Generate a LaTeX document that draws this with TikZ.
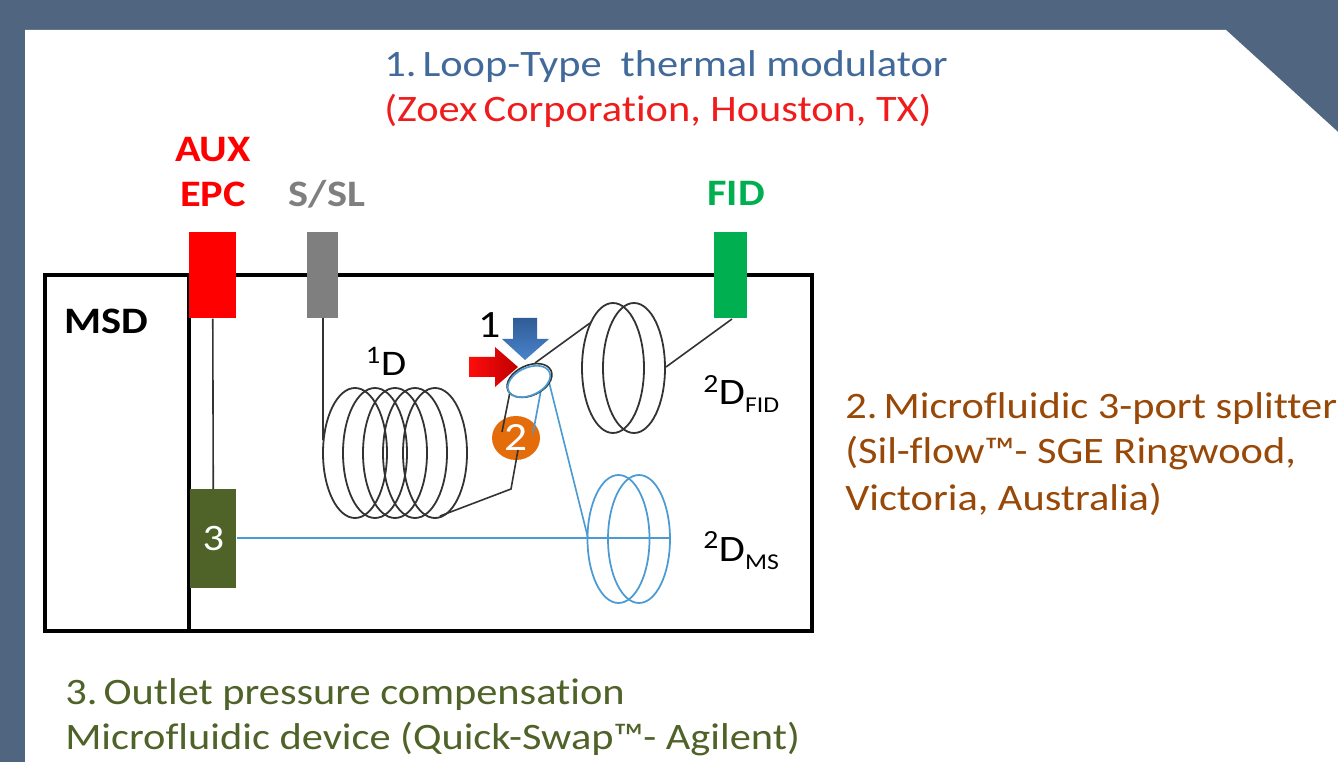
\documentclass[tikz,border=0pt]{standalone}
\usepackage{fontspec}
\setmainfont[FakeStretch=1.135,Ligatures=NoCommon]{Carlito}
\usetikzlibrary{shapes.geometric}
\definecolor{slate}{HTML}{506680}
\definecolor{titleblue}{HTML}{416A9B}
\definecolor{titlered}{HTML}{F01C1C}
\definecolor{brownt}{HTML}{984807}
\definecolor{olivet}{HTML}{4F6228}
\definecolor{olivebox}{HTML}{4F6228}
\definecolor{fidgreen}{HTML}{00B050}
\definecolor{grayb}{HTML}{7F7F7F}
\definecolor{coilblue}{HTML}{4A9AD4}
\definecolor{orangec}{HTML}{E46C0A}
\definecolor{arrowdark}{HTML}{2F5C96}
\definecolor{arrowlight}{HTML}{4A84CC}
\tikzset{
 x=0.75pt,y=-0.75pt,
 label26/.style={anchor=base west,inner sep=0pt,font=\fontsize{28}{30}\selectfont},
 labelb/.style={anchor=base,inner sep=0pt,font=\fontsize{28}{30}\selectfont\bfseries},
 coil/.style={draw=black!80,line width=1.35pt},
 bluecoil/.style={draw=coilblue,line width=1.3pt},
 wire/.style={draw=black!80,line width=1.2pt},
 bluewire/.style={draw=coilblue,line width=1.25pt},
 block/.style={inner sep=0pt,draw=none},
}
\begin{document}
\begin{tikzpicture}
\useasboundingbox (0,0) rectangle (1338,762);
\fill[slate] (0,0) rectangle (1338,762);
\fill[white] (25,30) -- (1226,30) -- (1338,132) -- (1338,762) -- (25,762) -- cycle;

% frame
\draw[line width=3pt,black] (45,275) rectangle (812,631);
\draw[line width=3pt,black] (189,275) -- (189,631);

% blocks
\node[block,fill=red,minimum width=35.25pt,minimum height=64.5pt,anchor=north west] (aux) at (189,232) {};
\node[block,fill=grayb,minimum width=23.25pt,minimum height=64.5pt,anchor=north west] (ssl) at (307,232) {};
\node[block,fill=fidgreen,minimum width=24.75pt,minimum height=64.5pt,anchor=north west] (fid) at (714,232) {};
\node[block,fill=olivebox,text=white,minimum width=34.5pt,minimum height=74.25pt,anchor=north west,font=\fontsize{28}{30}\selectfont] (three) at (190,489) {3};

% coordinates
\coordinate (sslout) at (323,318);
\coordinate (coilL) at (323,440);
\coordinate (coilR) at (440,516);
\coordinate (bend) at (511,489);
\coordinate (two) at (518,450);
\coordinate (fidin) at (732,319);
\coordinate (fidcoilR) at (666,367);
\coordinate (fidcoilL) at (590,323);
\coordinate (splitTop) at (535,363);
\coordinate (splitBL) at (510,392);
\coordinate (splitBR) at (541,390);
\coordinate (splitRt) at (548,378);
\coordinate (twoL) at (502,432);
\coordinate (twoR) at (533,433);
\coordinate (msL) at (588,538);
\coordinate (msR) at (670,538);

% orange circle
\node[ellipse,fill=orangec,inner sep=0pt,minimum width=36pt,minimum height=33pt,text=white,font=\fontsize{30}{30}\selectfont] (circ) at (516,438) {2};

% 1D coil
\foreach \c in {355,375,395,415,435}
  \draw[coil] (\c,453) ellipse [x radius=32,y radius=65];
% FID coil
\foreach \c in {613,634}
  \draw[coil] (\c,368) ellipse [x radius=31,y radius=65];
% MS coil
\foreach \c in {618.5,639}
  \draw[bluecoil] (\c,539) ellipse [x radius=31,y radius=64];

% wires
\draw[wire] (sslout) -- (coilL);
\draw[wire] (coilR) -- (bend) -- (two);
\draw[wire] (splitBL) -- (twoL);
\draw[bluewire] (splitBR) -- (twoR);
\draw[wire] (splitTop) -- (fidcoilL);
\draw[wire] (fidin) -- (fidcoilR);
\draw[bluewire] (splitRt) -- (msL);
\draw[bluewire] (three.east |- msL) -- (msR);
\draw[wire] (aux.south) -- (three.north);

% splitter
\draw[wire,fill=white] (529.5,380.5) ellipse [x radius=23.7,y radius=15,rotate=25];
\draw[bluewire] (529,381.5) ellipse [x radius=22.5,y radius=13.8,rotate=25];

% arrows
\shade[top color=arrowdark,bottom color=arrowlight]
  (513,318) -- (537,318) -- (537,339) -- (549,339) -- (525,360) -- (502,339) -- (513,339) -- cycle;
\shade[left color=red!95!white,right color=red!75!black]
  (469,357) -- (495,357) -- (495,347) -- (518,367) -- (495,387) -- (495,377) -- (469,377) -- cycle;

% labels
\node[label26,text=titleblue] (t1) at (384,77) {1.\,Loop-Type\ \ thermal modulator};
\node[label26,text=titlered] (t1b) at (384,122) {(Zoex\,Corporation, Houston, TX)};
\node[labelb,text=red] (lab1) at (213,162) {AUX};
\node[labelb,text=red] (lab2) at (213,207) {EPC};
\node[labelb,text=grayb] (lab3) at (327,207) {S/SL};
\node[labelb,text=fidgreen] (lab4) at (736,206) {FID};
\node[labelb,text=black] (msd) at (106,334) {MSD};
\node[anchor=base,inner sep=0pt,font=\fontsize{29}{30}\selectfont] (one) at (490,338) {1};
\node[anchor=base,inner sep=0pt,font=\fontsize{27}{30}\selectfont] (oneD) at (386,376) {\textsuperscript{1}D};
\node[anchor=base west,inner sep=0pt,font=\fontsize{28}{30}\selectfont] (dfid) at (703,405) {\textsuperscript{2}D\raisebox{-6pt}{\fontsize{17}{18}\selectfont FID}};
\node[anchor=base west,inner sep=0pt,font=\fontsize{28}{30}\selectfont] (dms) at (703,561) {\textsuperscript{2}D\raisebox{-6pt}{\fontsize{17}{18}\selectfont MS}};
\node[label26,text=brownt] (t2a) at (845,419) {2.\,Microfluidic 3-port splitter};
\node[label26,text=brownt] (t2b) at (845,464) {(Sil-flow™- SGE Ringwood,};
\node[label26,text=brownt] (t2c) at (845,510) {Victoria, Australia)};
\node[label26,text=olivet] (t3a) at (65,704) {3.\,Outlet pressure compensation};
\node[label26,text=olivet] (t3b) at (65,749) {Microfluidic device (Quick-Swap™- Agilent)};
\end{tikzpicture}
\end{document}
